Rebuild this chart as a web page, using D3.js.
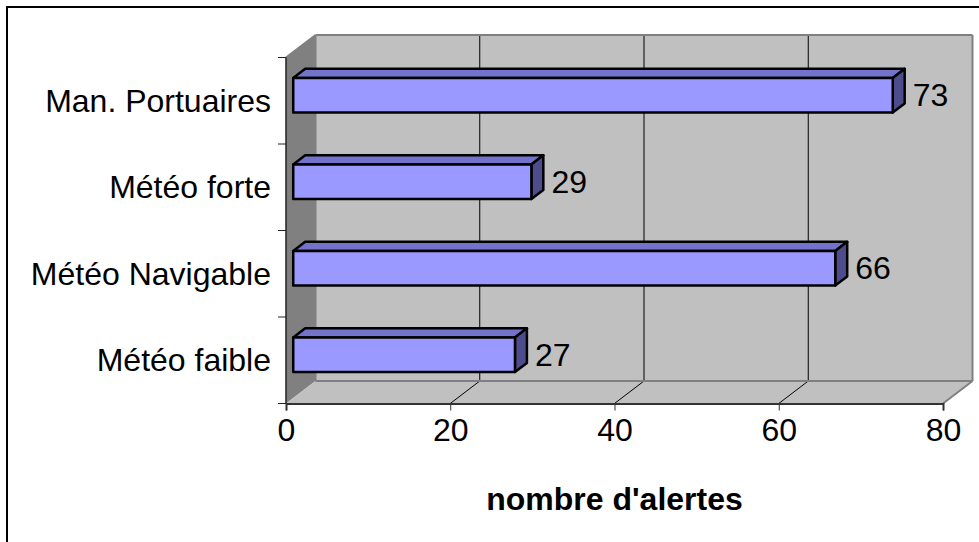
<!DOCTYPE html>
<html>
<head>
<meta charset="utf-8">
<script src="https://cdn.jsdelivr.net/npm/d3@7"></script>
<style>
  html, body { margin: 0; padding: 0; background: #fff; }
  svg { display: block; font-family: "Liberation Sans", Arial, sans-serif; }
</style>
</head>
<body>
<svg id="chart" width="979" height="542"></svg>
<script>
// Alert counts per category (listed top to bottom)
const categories = ["Man. Portuaires", "Météo forte", "Météo Navigable", "Météo faible"];
const values = [73, 29, 66, 27];
const xTicks = [0, 20, 40, 60, 80];
const xTitle = "nombre d'alertes";

const svg = d3.select("#chart");
const FS = 32;

// Front plane of the 3D box
const x0 = 286, x1 = 943, yTop = 57.5, yBot = 403.5;
// Depth vector of the box (front to back)
const depth = { dx: 29.5, dy: -22.5 };
// Bars sit between these fractions of the depth
const f1 = 0.245, f2 = 0.65;

const x = d3.scaleLinear().domain([0, 80]).range([x0, x1]);
const y = d3.scaleBand().domain(categories).range([yTop, yBot]).paddingInner(0.6).paddingOuter(0.3);
const band = d3.scaleBand().domain(categories).range([yTop, yBot]);

// Outer chart-area frame
svg.append("rect").attr("x", 7).attr("y", 7).attr("width", 1000).attr("height", 600)
  .attr("fill", "#fff").attr("stroke", "#000").attr("stroke-width", 2);

const bx0 = x0 + depth.dx, bx1 = x1 + depth.dx;
const byTop = yTop + depth.dy, byBot = yBot + depth.dy;

// Back wall
svg.append("rect").attr("x", bx0).attr("y", byTop).attr("width", bx1 - bx0).attr("height", byBot - byTop)
  .attr("fill", "#c0c0c0");
// Left side wall
svg.append("polygon")
  .attr("points", [[x0, yTop], [bx0, byTop], [bx0, byBot], [x0, yBot]].map(p => p.join(",")).join(" "))
  .attr("fill", "#808080");
// Floor
svg.append("polygon")
  .attr("points", [[x0, yBot], [x1, yBot], [bx1, byBot], [bx0, byBot]].map(p => p.join(",")).join(" "))
  .attr("fill", "#c0c0c0");

// Gridlines on back wall and floor
xTicks.slice(1, -1).forEach(t => {
  svg.append("line").attr("x1", x(t) + depth.dx).attr("x2", x(t) + depth.dx)
    .attr("y1", byTop).attr("y2", byBot).attr("stroke", "#000").attr("stroke-width", 1);
  svg.append("line").attr("x1", x(t)).attr("y1", yBot).attr("x2", x(t) + depth.dx).attr("y2", byBot)
    .attr("stroke", "#000").attr("stroke-width", 1);
});

// Wall edges
const edge = (a, b) => svg.append("line").attr("x1", a[0]).attr("y1", a[1]).attr("x2", b[0]).attr("y2", b[1])
  .attr("stroke", "#808080").attr("stroke-width", 2);
edge([bx0, byTop], [bx1, byTop]);
edge([bx1, byTop], [bx1, byBot]);
edge([bx0, byBot], [bx1, byBot]);
edge([bx1, byBot], [x1, yBot]);
edge([x0, yTop], [bx0, byTop]);
edge([bx0, byTop], [bx0, byBot]);

// Axes on the front plane
const xAxis = d3.axisBottom(x).tickValues(xTicks).tickSize(7).tickPadding(8).tickFormat(d3.format("d"));
const gx = svg.append("g").attr("transform", `translate(0,${yBot})`).call(xAxis);
gx.select(".domain").attr("stroke", "#333").attr("stroke-width", 2);
gx.selectAll(".tick line").attr("stroke", "#333").attr("stroke-width", 1);
gx.selectAll(".tick text").attr("font-size", FS).attr("fill", "#000")
  .attr("font-family", "'Liberation Sans', Arial, sans-serif");

const gy = svg.append("g").attr("transform", `translate(${x0},0)`);
gy.append("line").attr("x1", 0).attr("x2", 0).attr("y1", yTop).attr("y2", yBot)
  .attr("stroke", "#222").attr("stroke-width", 1.5);
const bounds = categories.map(c => band(c)).concat([yBot]);
gy.selectAll("line.tk").data(bounds).join("line").attr("class", "tk")
  .attr("x1", -8).attr("x2", 0).attr("y1", d => d).attr("y2", d => d)
  .attr("stroke", "#222").attr("stroke-width", 1);
gy.selectAll("text").data(categories).join("text")
  .attr("x", -15).attr("y", d => band(d) + band.bandwidth() / 2)
  .attr("dy", "0.35em").attr("text-anchor", "end").attr("font-size", FS).attr("fill", "#000")
  .text(d => d);

// 3D bars
const ox1 = depth.dx * f1, oy1 = depth.dy * f1;
const ox2 = depth.dx * f2, oy2 = depth.dy * f2;
const bars = svg.append("g");
categories.forEach((c, i) => {
  const v = values[i];
  const xl = x(0) + ox1, xr = x(v) + ox1;
  const yt = y(c) + oy1, yb = y(c) + y.bandwidth() + oy1;
  const dx = ox2 - ox1, dy = oy2 - oy1;
  const g = bars.append("g").attr("stroke", "#000").attr("stroke-width", 2.5).attr("stroke-linejoin", "round");
  // top face
  g.append("polygon").attr("points", [[xl, yt], [xr, yt], [xr + dx, yt + dy], [xl + dx, yt + dy]].map(p => p.join(",")).join(" "))
    .attr("fill", "#7373cc");
  // end face
  g.append("polygon").attr("points", [[xr, yt], [xr + dx, yt + dy], [xr + dx, yb + dy], [xr, yb]].map(p => p.join(",")).join(" "))
    .attr("fill", "#4d4d8c");
  // front face
  g.append("rect").attr("x", xl).attr("y", yt).attr("width", xr - xl).attr("height", yb - yt)
    .attr("fill", "#9999ff");
  // value label
  svg.append("text").attr("x", xr + 20).attr("y", (yt + yb) / 2).attr("dy", "0.35em")
    .attr("font-size", FS).attr("fill", "#000").text(v);
});

// Axis title
svg.append("text").attr("x", (x0 + x1) / 2).attr("y", 510).attr("text-anchor", "middle")
  .attr("font-size", FS).attr("font-weight", "bold").attr("fill", "#000").text(xTitle);
</script>
</body>
</html>
